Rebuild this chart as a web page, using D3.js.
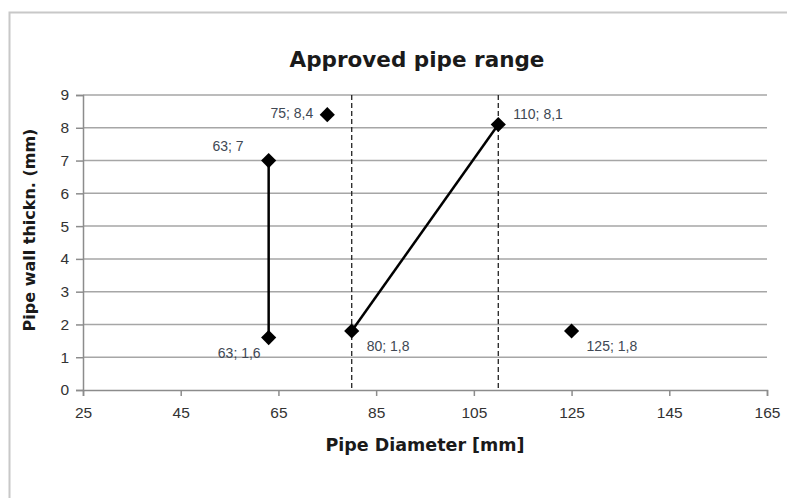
<!DOCTYPE html>
<html>
<head>
<meta charset="utf-8">
<script src="https://cdn.jsdelivr.net/npm/d3@7/dist/d3.min.js"></script>
<style>
  html, body { margin: 0; padding: 0; background: #fff; }
  svg { display: block; }
</style>
</head>
<body>
<svg id="chart" width="787" height="498"></svg>
<script>
// ---- Data ----
const chartTitle = "Approved pipe range";
const xTitle = "Pipe Diameter [mm]";
const yTitle = "Pipe wall thickn. (mm)";
const xTicks = [25, 45, 65, 85, 105, 125, 145, 165];
const yTicks = [0, 1, 2, 3, 4, 5, 6, 7, 8, 9];
const pointX = [63, 63, 75, 80, 110, 125];
const pointY = [7, 1.6, 8.4, 1.8, 8.1, 1.8];
const pointLabels = ["63; 7", "63; 1,6", "75; 8,4", "80; 1,8", "110; 8,1", "125; 1,8"];
const labelPlace = ["ul", "dl", "l", "dr", "ur", "dr"];
const segA = [[63, 1.6], [63, 7]];
const segB = [[80, 1.8], [110, 8.1]];
const limitX = [80, 110];

// ---- Layout ----
const svg = d3.select("#chart");
const x = d3.scaleLinear().domain([25, 165]).range([83, 767]);
const y = d3.scaleLinear().domain([0, 9]).range([390, 95]);

// outer chart border
svg.append("rect")
  .attr("x", 9.5).attr("y", 12.5).attr("width", 820).attr("height", 520)
  .attr("fill", "#fff").attr("stroke", "#c8c8c8").attr("stroke-width", 2);

// title
svg.append("text")
  .attr("x", 417).attr("y", 67)
  .attr("text-anchor", "middle")
  .attr("font-family", "'DejaVu Sans', sans-serif")
  .attr("font-weight", "bold")
  .attr("font-size", 21.5)
  .attr("fill", "#1a1a1a")
  .text(chartTitle);

// gridlines
svg.append("g").selectAll("line").data(yTicks.filter(d => d > 0)).join("line")
  .attr("x1", x(25)).attr("x2", x(165))
  .attr("y1", d => y(d)).attr("y2", d => y(d))
  .attr("stroke", "#a6a6a6").attr("stroke-width", 1.5);

// axes
const xAxis = svg.append("g").attr("transform", `translate(0,${y(0)})`)
  .call(d3.axisBottom(x).tickValues(xTicks).tickSize(6).tickPadding(11).tickFormat(d3.format("d")));
const yAxis = svg.append("g").attr("transform", `translate(${x(25)},0)`)
  .call(d3.axisLeft(y).tickValues(yTicks).tickSize(7).tickPadding(7).tickFormat(d3.format("d")));
[xAxis, yAxis].forEach(a => {
  a.select(".domain").attr("stroke", "#8c8c8c").attr("stroke-width", 1.5);
  a.selectAll(".tick line").attr("stroke", "#8c8c8c").attr("stroke-width", 1.5);
  a.selectAll(".tick text")
    .attr("font-family", "'Liberation Sans', Arial, sans-serif")
    .attr("font-size", 15.5).attr("fill", "#333");
});

// dashed limit lines
svg.append("g").selectAll("line").data(limitX).join("line")
  .attr("x1", d => x(d)).attr("x2", d => x(d))
  .attr("y1", y(9)).attr("y2", y(0))
  .attr("stroke", "#222").attr("stroke-width", 1.3)
  .attr("stroke-dasharray", "5,3");

// segments
const line = d3.line().x(d => x(d[0])).y(d => y(d[1]));
[segA, segB].forEach(s => {
  svg.append("path").attr("d", line(s))
    .attr("fill", "none").attr("stroke", "#000").attr("stroke-width", 2.5);
});

// markers (diamonds)
svg.append("g").selectAll("path").data(pointX).join("path")
  .attr("d", d3.symbol().type(d3.symbolSquare).size(115))
  .attr("transform", (d, i) => `translate(${x(d)},${y(pointY[i])}) rotate(45)`)
  .attr("fill", "#000");

// data labels
const off = {
  ul: [-25, -10, "end"],
  dl: [-8, 20, "end"],
  l:  [-14, 3, "end"],
  dr: [15, 20, "start"],
  ur: [15, -6, "start"]
};
svg.append("g").selectAll("text").data(pointLabels).join("text")
  .attr("x", (d, i) => x(pointX[i]) + off[labelPlace[i]][0])
  .attr("y", (d, i) => y(pointY[i]) + off[labelPlace[i]][1])
  .attr("text-anchor", (d, i) => off[labelPlace[i]][2])
  .attr("font-family", "'Liberation Sans', Arial, sans-serif")
  .attr("font-size", 14)
  .attr("fill", "#404854")
  .text(d => d);

// axis titles
svg.append("text")
  .attr("x", 425).attr("y", 451)
  .attr("text-anchor", "middle")
  .attr("font-family", "'DejaVu Sans', sans-serif")
  .attr("font-weight", "bold").attr("font-size", 17.5)
  .attr("fill", "#1a1a1a")
  .text(xTitle);
svg.append("text")
  .attr("transform", "translate(35,230) rotate(-90)")
  .attr("text-anchor", "middle")
  .attr("font-family", "'DejaVu Sans', sans-serif")
  .attr("font-weight", "bold").attr("font-size", 16)
  .attr("fill", "#1a1a1a")
  .text(yTitle);
</script>
</body>
</html>
